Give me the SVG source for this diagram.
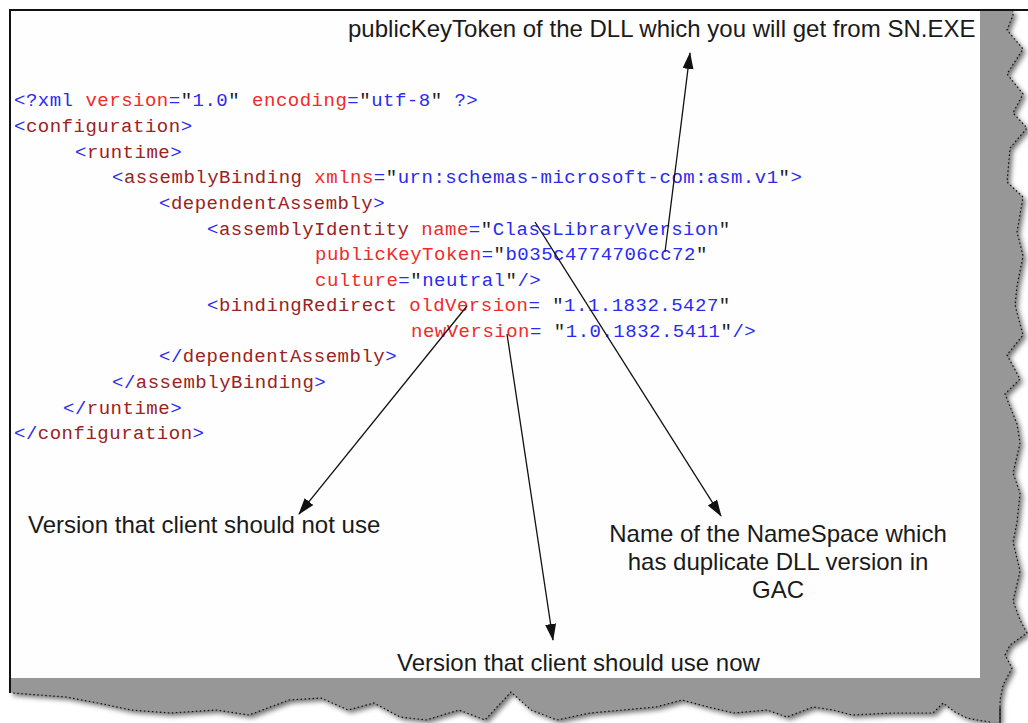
<svg xmlns="http://www.w3.org/2000/svg" width="1028" height="723" viewBox="0 0 1028 723">
<style>
.c{font-family:"Liberation Mono","Courier New",monospace;font-size:19px;letter-spacing:0.5px;white-space:pre}
.b{fill:#2a2af0}
.e{fill:#9a2222}
.a{fill:#f02a2a}
.q{fill:#222}
.lbl{font-family:"Liberation Sans",Arial,sans-serif;font-size:24px;fill:#1a1a1a}
.conn{stroke:#111;stroke-width:1.3;fill:none;marker-end:url(#ah)}
</style>
<defs>
<marker id="ah" markerUnits="userSpaceOnUse" markerWidth="18" markerHeight="12" refX="16" refY="5.5" orient="auto">
<path d="M0,0 L17,5.5 L0,11 Z" fill="#111"/>
</marker>
<filter id="sh" x="-10%" y="-10%" width="120%" height="120%"><feGaussianBlur stdDeviation="2.5"/></filter>
</defs>
<rect width="1028" height="723" fill="#fff"/>
<g id="page">
<path id="shadow" transform="translate(3,3)" filter="url(#sh)" fill="#444" opacity="0.75" d="M980,10 L1013,10 L1013,15 L1007,30 L1023,49 L1007,74 L1023,94 L1013,113 L1027,128 L1010,148 L1007,182 L1023,197 L1017,232 L1023,256 L1017,286 L1015,305 L1023,335 L1007,355 L1020,379 L1005,394 L1017,424 L1020,443 L1013,473 L1020,493 L1017,522 L1013,542 L1020,571 L1013,601 L1020,620 L1027,633 L1010,645 L1005,655 L1012,668 L1003,685 L1000,700 L1000,722 L990,722 L977,720 L967,718 L955,712 L943,703 L933,713 L892,713 L852,715 L833,710 L813,707 L787,717 L767,710 L734,713 L708,707 L682,700 L656,707 L623,710 L590,713 L557,720 L531,710 L511,692 L485,720 L459,710 L426,720 L400,717 L374,703 L348,710 L321,698 L289,700 L249,715 L216,710 L170,713 L131,710 L98,703 L66,697 L13,693 L10,692 L10,678 L980,678 Z"/>
<path id="torn" fill="#979797" d="M980,10 L1013,10 L1013,15 L1007,30 L1023,49 L1007,74 L1023,94 L1013,113 L1027,128 L1010,148 L1007,182 L1023,197 L1017,232 L1023,256 L1017,286 L1015,305 L1023,335 L1007,355 L1020,379 L1005,394 L1017,424 L1020,443 L1013,473 L1020,493 L1017,522 L1013,542 L1020,571 L1013,601 L1020,620 L1027,633 L1010,645 L1005,655 L1012,668 L1003,685 L1000,700 L1000,722 L990,722 L977,720 L967,718 L955,712 L943,703 L933,713 L892,713 L852,715 L833,710 L813,707 L787,717 L767,710 L734,713 L708,707 L682,700 L656,707 L623,710 L590,713 L557,720 L531,710 L511,692 L485,720 L459,710 L426,720 L400,717 L374,703 L348,710 L321,698 L289,700 L249,715 L216,710 L170,713 L131,710 L98,703 L66,697 L13,693 L10,692 L10,678 L980,678 Z"/>
<path id="tornline" fill="none" stroke="#111" stroke-width="1.2" stroke-dasharray="1.5 2.5" d="M1013,10 L1013,15 L1007,30 L1023,49 L1007,74 L1023,94 L1013,113 L1027,128 L1010,148 L1007,182 L1023,197 L1017,232 L1023,256 L1017,286 L1015,305 L1023,335 L1007,355 L1020,379 L1005,394 L1017,424 L1020,443 L1013,473 L1020,493 L1017,522 L1013,542 L1020,571 L1013,601 L1020,620 L1027,633 L1010,645 L1005,655 L1012,668 L1003,685 L1000,700 L1000,722 M990,722 L977,720 L967,718 L955,712 L943,703 L933,713 L892,713 L852,715 L833,710 L813,707 L787,717 L767,710 L734,713 L708,707 L682,700 L656,707 L623,710 L590,713 L557,720 L531,710 L511,692 L485,720 L459,710 L426,720 L400,717 L374,703 L348,710 L321,698 L289,700 L249,715 L216,710 L170,713 L131,710 L98,703 L66,697 L13,693 L10,692"/>
<rect x="10" y="10" width="970" height="668" fill="#fefefe"/>
<line x1="9" y1="10" x2="1028" y2="10" stroke="#111" stroke-width="2"/>
<line x1="10" y1="9" x2="10" y2="693" stroke="#111" stroke-width="2"/>
<line x1="1000" y1="707" x2="1000" y2="723" stroke="#111" stroke-width="1.2"/>
</g>
<g id="code" class="c">
<text x="14" y="106"><tspan class="b">&lt;?xml</tspan> <tspan class="a">version</tspan><tspan class="b">=</tspan><tspan class="q">"</tspan><tspan class="b">1.0</tspan><tspan class="q">"</tspan> <tspan class="a">encoding</tspan><tspan class="b">=</tspan><tspan class="q">"</tspan><tspan class="b">utf-8</tspan><tspan class="q">"</tspan><tspan class="b"> ?&gt;</tspan></text>
<text x="14" y="132"><tspan class="b">&lt;</tspan><tspan class="e">configuration</tspan><tspan class="b">&gt;</tspan></text>
<text x="75" y="158"><tspan class="b">&lt;</tspan><tspan class="e">runtime</tspan><tspan class="b">&gt;</tspan></text>
<text x="112" y="183"><tspan class="b">&lt;</tspan><tspan class="e">assemblyBinding</tspan> <tspan class="a">xmlns</tspan><tspan class="b">=</tspan><tspan class="q">"</tspan><tspan class="b">urn:schemas-microsoft-com:asm.v1</tspan><tspan class="q">"</tspan><tspan class="b">&gt;</tspan></text>
<text x="159" y="209"><tspan class="b">&lt;</tspan><tspan class="e">dependentAssembly</tspan><tspan class="b">&gt;</tspan></text>
<text x="207" y="235"><tspan class="b">&lt;</tspan><tspan class="e">assemblyIdentity</tspan> <tspan class="a">name</tspan><tspan class="b">=</tspan><tspan class="q">"</tspan><tspan class="b">ClassLibraryVersion</tspan><tspan class="q">"</tspan></text>
<text x="315" y="260"><tspan class="a">publicKeyToken</tspan><tspan class="b">=</tspan><tspan class="q">"</tspan><tspan class="b">b035c4774706cc72</tspan><tspan class="q">"</tspan></text>
<text x="315" y="286"><tspan class="a">culture</tspan><tspan class="b">=</tspan><tspan class="q">"</tspan><tspan class="b">neutral</tspan><tspan class="q">"</tspan><tspan class="b">/&gt;</tspan></text>
<text x="207" y="311"><tspan class="b">&lt;</tspan><tspan class="e">bindingRedirect</tspan> <tspan class="a">oldVersion</tspan><tspan class="b">=</tspan> <tspan class="q">"</tspan><tspan class="b">1.1.1832.5427</tspan><tspan class="q">"</tspan></text>
<text x="411" y="337"><tspan class="a">newVersion</tspan><tspan class="b">=</tspan> <tspan class="q">"</tspan><tspan class="b">1.0.1832.5411</tspan><tspan class="q">"</tspan><tspan class="b">/&gt;</tspan></text>
<text x="159" y="362"><tspan class="b">&lt;/</tspan><tspan class="e">dependentAssembly</tspan><tspan class="b">&gt;</tspan></text>
<text x="112" y="388"><tspan class="b">&lt;/</tspan><tspan class="e">assemblyBinding</tspan><tspan class="b">&gt;</tspan></text>
<text x="63" y="414"><tspan class="b">&lt;/</tspan><tspan class="e">runtime</tspan><tspan class="b">&gt;</tspan></text>
<text x="14" y="439"><tspan class="b">&lt;/</tspan><tspan class="e">configuration</tspan><tspan class="b">&gt;</tspan></text>
</g>
<g id="connectors">
<line class="conn" x1="665" y1="252" x2="690" y2="53"/>
<line class="conn" x1="467" y1="306" x2="299" y2="514"/>
<line class="conn" x1="507" y1="334" x2="553" y2="640"/>
<line class="conn" x1="535" y1="222" x2="721" y2="516"/>
</g>
<g id="label-publickey"><text class="lbl" x="348" y="37">publicKeyToken of the DLL which you will get from SN.EXE</text></g>
<g id="label-old"><text class="lbl" x="28" y="533">Version that client should not use</text></g>
<g id="label-namespace"><text class="lbl" text-anchor="middle"><tspan x="778" y="542">Name of the NameSpace which</tspan><tspan x="778" y="570">has duplicate DLL version in</tspan><tspan x="778" y="598">GAC</tspan></text></g>
<g id="label-new"><text class="lbl" x="397" y="671">Version that client should use now</text></g>
</svg>
